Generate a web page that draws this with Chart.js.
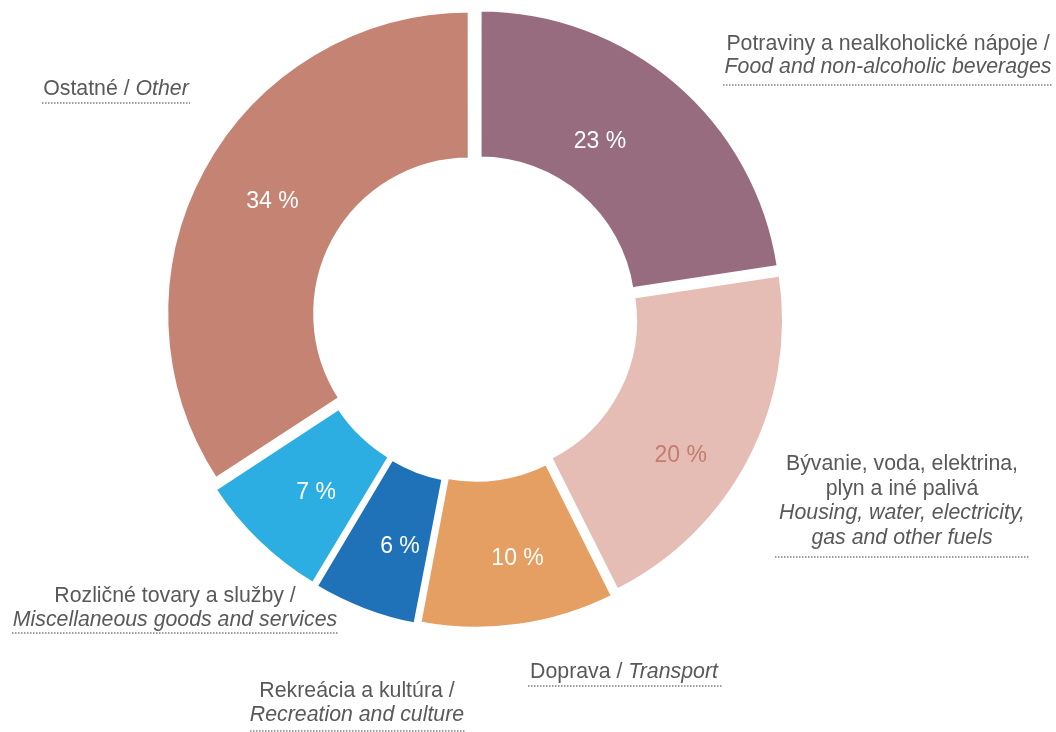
<!DOCTYPE html>
<html>
<head>
<meta charset="utf-8">
<script src="https://cdn.jsdelivr.net/npm/chart.js@4/dist/chart.umd.min.js"></script>
<style>
  body { margin: 0; background: #fff; }
  #wrap { width: 1056px; height: 732px; position: relative; }
</style>
</head>
<body>
<div id="wrap"><canvas id="myChart"></canvas></div>
<script>
// data (shares in %; labels show them rounded)
const categoriesSk = ["Potraviny a nealkoholické nápoje", "Bývanie, voda, elektrina,\nplyn a iné palivá", "Doprava", "Rekreácia a kultúra", "Rozličné tovary a služby", "Ostatné"];
const categoriesEn = ["Food and non-alcoholic beverages", "Housing, water, electricity,\ngas and other fuels", "Transport", "Recreation and culture", "Miscellaneous goods and services", "Other"];
const shares = [22.6, 20.0, 10.4, 5.6, 7.2, 34.2];
const colors = ["#986c7f", "#e6bdb5", "#e69f63", "#1f72b8", "#2caee2", "#c58374"];

// label styling / placement
const pctColors = ["#fff", "#c47c6c", "#fff", "#fff", "#fff", "#fff"];
const pctNudge = [[-32, 7], [-8, 28], [9, 4], [10, 5], [7, 3], [8, -1]];
// mode: inline = "sk / en" on one line, stack = "sk /" then en, plain = sk lines then en lines
const outLabels = [
  { mode: "stack", x: 888, y: 44, lh: 23.5, line: [723, 1052, 85] },
  { mode: "plain", x: 902, y: 464, lh: 24.7, line: [775, 1030, 557] },
  { mode: "inline", x: 624, y: 672, lh: 24, line: [528, 722, 686] },
  { mode: "stack", x: 357, y: 691, lh: 24.5, line: [250, 465, 731] },
  { mode: "stack", x: 175, y: 596, lh: 24, line: [12, 338, 633] },
  { mode: "inline", x: 116, y: 89, lh: 24, line: [42, 190, 103] }
];

const FONT = "'Liberation Sans', Arial, sans-serif";
const TXT = "21.3px " + FONT;
const TXT_I = "italic 21.3px " + FONT;

const labelPlugin = {
  id: "labels",
  afterDatasetsDraw(chart) {
    const ctx = chart.ctx;
    const arcs = chart.getDatasetMeta(0).data;
    ctx.save();
    ctx.textBaseline = "middle";
    ctx.textAlign = "center";
    // percentages
    ctx.font = "23px " + FONT;
    arcs.forEach(function (arc, i) {
      const mid = (arc.startAngle + arc.endAngle) / 2;
      const r = 240;
      const x = arc.x + Math.cos(mid) * r + pctNudge[i][0];
      const y = arc.y + Math.sin(mid) * r + pctNudge[i][1];
      ctx.fillStyle = pctColors[i];
      ctx.fillText(Math.round(shares[i]) + " %", x, y);
    });
    // outside labels
    ctx.fillStyle = "#595959";
    outLabels.forEach(function (lab, i) {
      const sk = categoriesSk[i], en = categoriesEn[i];
      let y = lab.y;
      if (lab.mode === "inline") {
        const a = sk + " / ";
        ctx.font = TXT;
        const wa = ctx.measureText(a).width;
        ctx.font = TXT_I;
        const wb = ctx.measureText(en).width;
        const x0 = lab.x - (wa + wb) / 2;
        ctx.textAlign = "left";
        ctx.font = TXT;
        ctx.fillText(a, x0, y);
        ctx.font = TXT_I;
        ctx.fillText(en, x0 + wa, y);
        ctx.textAlign = "center";
      } else {
        const skLines = sk.split("\n");
        if (lab.mode === "stack") skLines[skLines.length - 1] += " /";
        ctx.font = TXT;
        skLines.forEach(function (t) { ctx.fillText(t, lab.x, y); y += lab.lh; });
        ctx.font = TXT_I;
        en.split("\n").forEach(function (t) { ctx.fillText(t, lab.x, y); y += lab.lh; });
      }
      // dotted underline
      ctx.beginPath();
      ctx.strokeStyle = "#808080";
      ctx.lineWidth = 1.5;
      ctx.setLineDash([1.5, 1.5]);
      ctx.moveTo(lab.line[0], lab.line[2]);
      ctx.lineTo(lab.line[1], lab.line[2]);
      ctx.stroke();
      ctx.setLineDash([]);
    });
    ctx.restore();
  }
};

const config = {
  type: "doughnut",
  data: {
    labels: categoriesEn,
    datasets: [{
      data: shares,
      backgroundColor: colors,
      borderColor: "#fff",
      borderWidth: 3,
      offset: 28
    }]
  },
  options: {
    responsive: true,
    maintainAspectRatio: false,
    animation: false,
    radius: 301.5,
    cutout: 153.5,
    layout: { padding: { left: 0, right: 105, top: 0, bottom: 98 } },
    plugins: {
      legend: { display: false },
      tooltip: { enabled: false }
    }
  },
  plugins: [labelPlugin]
};

var myChart = new Chart(document.getElementById("myChart"), config);
</script>
</body>
</html>
